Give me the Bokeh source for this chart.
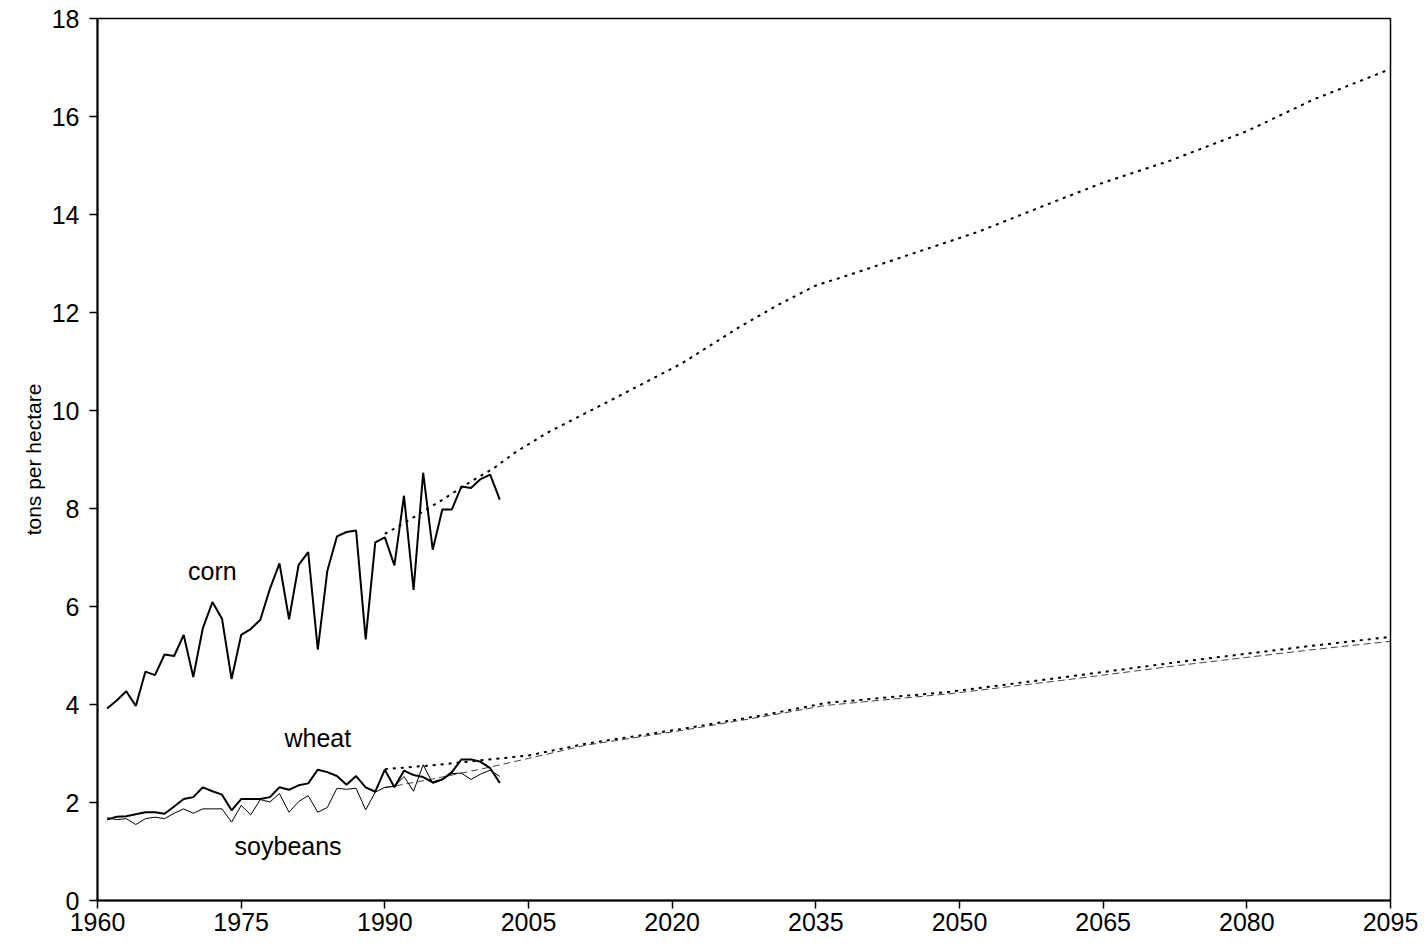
from bokeh.plotting import figure
from bokeh.models import Range1d, FixedTicker
from bokeh.core.properties import value
from bokeh.embed import file_html
from bokeh.resources import INLINE

# ---- data ----
years = list(range(1961, 2003))
corn = [3.92, 4.08, 4.27, 3.97, 4.67, 4.60, 5.02, 4.99, 5.42, 4.56,
        5.56, 6.09, 5.75, 4.52, 5.42, 5.54, 5.73, 6.36, 6.88, 5.74,
        6.85, 7.11, 5.12, 6.73, 7.43, 7.52, 7.55, 5.33, 7.31, 7.41,
        6.84, 8.26, 6.34, 8.73, 7.16, 7.98, 7.98, 8.45, 8.42, 8.60,
        8.69, 8.18]
wheat = [1.65, 1.71, 1.72, 1.76, 1.80, 1.80, 1.77, 1.92, 2.07, 2.11,
         2.31, 2.23, 2.16, 1.84, 2.07, 2.07, 2.07, 2.11, 2.31, 2.26,
         2.35, 2.39, 2.67, 2.62, 2.54, 2.36, 2.54, 2.31, 2.22, 2.67,
         2.31, 2.65, 2.56, 2.52, 2.41, 2.47, 2.62, 2.88, 2.88, 2.83,
         2.70, 2.40]
soybeans = [1.69, 1.65, 1.67, 1.55, 1.67, 1.70, 1.67, 1.78, 1.87, 1.78,
            1.87, 1.87, 1.87, 1.60, 1.94, 1.75, 2.06, 2.01, 2.18, 1.80,
            2.02, 2.14, 1.80, 1.90, 2.29, 2.27, 2.29, 1.85, 2.21, 2.31,
            2.33, 2.53, 2.23, 2.77, 2.39, 2.46, 2.59, 2.60, 2.47, 2.58,
            2.66, 2.53]

corn_trend_years = [1990, 1992.5, 1995.7, 1998.9, 2001.3, 2003.5, 2007, 2014, 2021,
                    2027, 2031, 2035, 2039, 2044, 2052, 2060, 2065, 2072, 2080,
                    2087, 2095]
corn_trend = [7.48, 7.76, 8.14, 8.54, 8.81, 9.13, 9.55, 10.25, 10.96,
              11.70, 12.15, 12.55, 12.80, 13.13, 13.65, 14.27, 14.65, 15.10, 15.70,
              16.35, 16.97]

low_trend_years = [1990, 1995, 2000, 2005, 2011, 2021, 2030, 2036, 2049, 2061,
                   2073, 2086, 2095]
wheat_trend = [2.68, 2.76, 2.86, 2.96, 3.20, 3.50, 3.80, 4.03, 4.26, 4.56,
               4.87, 5.18, 5.38]
soy_trend = [2.30, 2.48, 2.68, 2.90, 3.17, 3.47, 3.77, 3.98, 4.22, 4.50,
             4.80, 5.10, 5.29]

x_ticks = [1960, 1975, 1990, 2005, 2020, 2035, 2050, 2065, 2080, 2095]
y_ticks = [0, 2, 4, 6, 8, 10, 12, 14, 16, 18]

labels = ["corn", "wheat", "soybeans"]
label_x = [1972.0, 1983.0, 1979.9]
label_y = [6.72, 3.32, 1.12]

FONT = "Liberation Sans"

p = figure(width=1422, height=941, output_backend="svg", toolbar_location=None,
           x_range=Range1d(1960, 2095), y_range=Range1d(0, 18),
           min_border_left=97, min_border_right=32, min_border_top=18,
           min_border_bottom=41)
p.xgrid.visible = False
p.ygrid.visible = False
p.outline_line_color = "black"
p.outline_line_width = 1.5
p.background_fill_color = "white"
p.border_fill_color = "white"

for ax in (p.xaxis[0], p.yaxis[0]):
    ax.axis_line_color = "black"
    ax.axis_line_width = 2
    ax.major_tick_line_color = "black"
    ax.major_tick_line_width = 1.5
    ax.major_tick_out = 8
    ax.major_tick_in = 0
    ax.minor_tick_line_color = None
    ax.major_label_text_font = FONT
    ax.major_label_text_font_size = "25px"
    ax.major_label_text_color = "black"

p.xaxis.ticker = FixedTicker(ticks=x_ticks)
p.yaxis.ticker = FixedTicker(ticks=y_ticks)
p.xaxis.major_label_standoff = 4
p.yaxis.major_label_standoff = 10
p.yaxis.axis_label = "tons per hectare"
p.yaxis.axis_label_text_font = FONT
p.yaxis.axis_label_text_font_style = "normal"
p.yaxis.axis_label_text_font_size = "21px"
p.yaxis.axis_label_text_color = "black"
p.yaxis.axis_label_standoff = 4

# trends
p.line(corn_trend_years, corn_trend, line_color="black", line_width=2, line_dash="3 5")
p.line(low_trend_years, soy_trend, line_color="#444444", line_width=1, line_dash="7 4")
p.line(low_trend_years, wheat_trend, line_color="black", line_width=2, line_dash="3 5")

# data
p.line(years, soybeans, line_color="black", line_width=1)
p.line(years, wheat, line_color="black", line_width=2)
p.line(years, corn, line_color="black", line_width=2)

p.text(x=label_x, y=label_y, text=labels, text_font=value(FONT),
       text_font_size="25px", text_align="center", text_baseline="middle",
       text_color="black")

open("out.html", "w").write(file_html(p, INLINE))
